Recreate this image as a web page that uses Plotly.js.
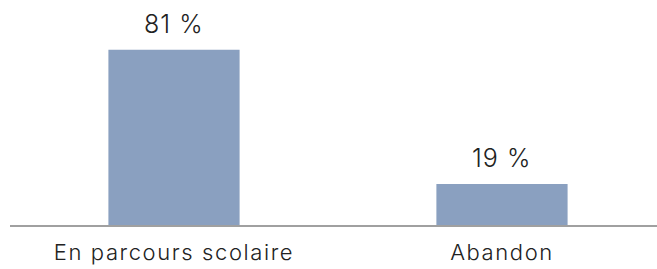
<!DOCTYPE html>
<html>
<head>
<meta charset="utf-8">
<script src="https://cdn.plot.ly/plotly-3.0.1.min.js"></script>
<style>
html,body{margin:0;padding:0;background:#fff}
#chart{width:657px;height:269px}
#chart .xtick text{letter-spacing:1.6px}
#chart .annotation-text{letter-spacing:1px}
</style>
</head>
<body>
<div id="chart"></div>
<script>
const categories = ["En parcours scolaire", "Abandon"];
const values = [81, 19];
const valueLabels = ["81 %", "19 %"];

const FONT = "Inter, Roboto, 'Liberation Sans', sans-serif";

const trace = {
  type: "bar",
  x: categories,
  y: values,
  width: 0.4,
  marker: {color: "#8aa0c0"},
  hoverinfo: "none"
};

const annotations = categories.map((c, i) => ({
  x: c, y: values[i], xref: "x", yref: "y",
  text: valueLabels[i], showarrow: false,
  yanchor: "bottom", yshift: 9,
  font: {family: FONT, size: 25, color: "#222", weight: 300}
}));

const layout = {
  width: 657, height: 269,
  margin: {l: 10, r: 0, t: 0, b: 44},
  paper_bgcolor: "#fff", plot_bgcolor: "#fff",
  showlegend: false,
  xaxis: {
    type: "category",
    range: [-0.5, 1.4726],
    showgrid: false, zeroline: false,
    showline: true, linecolor: "#a0a0a0", linewidth: 1.5,
    ticks: "outside", ticklen: 7, tickcolor: "rgba(0,0,0,0)",
    tickfont: {family: FONT, size: 22, color: "#222", weight: 300}
  },
  yaxis: {
    range: [0, 104],
    visible: false, showgrid: false, zeroline: false
  },
  annotations: annotations
};

Plotly.newPlot("chart", [trace], layout, {displayModeBar: false, staticPlot: true});
</script>
</body>
</html>
